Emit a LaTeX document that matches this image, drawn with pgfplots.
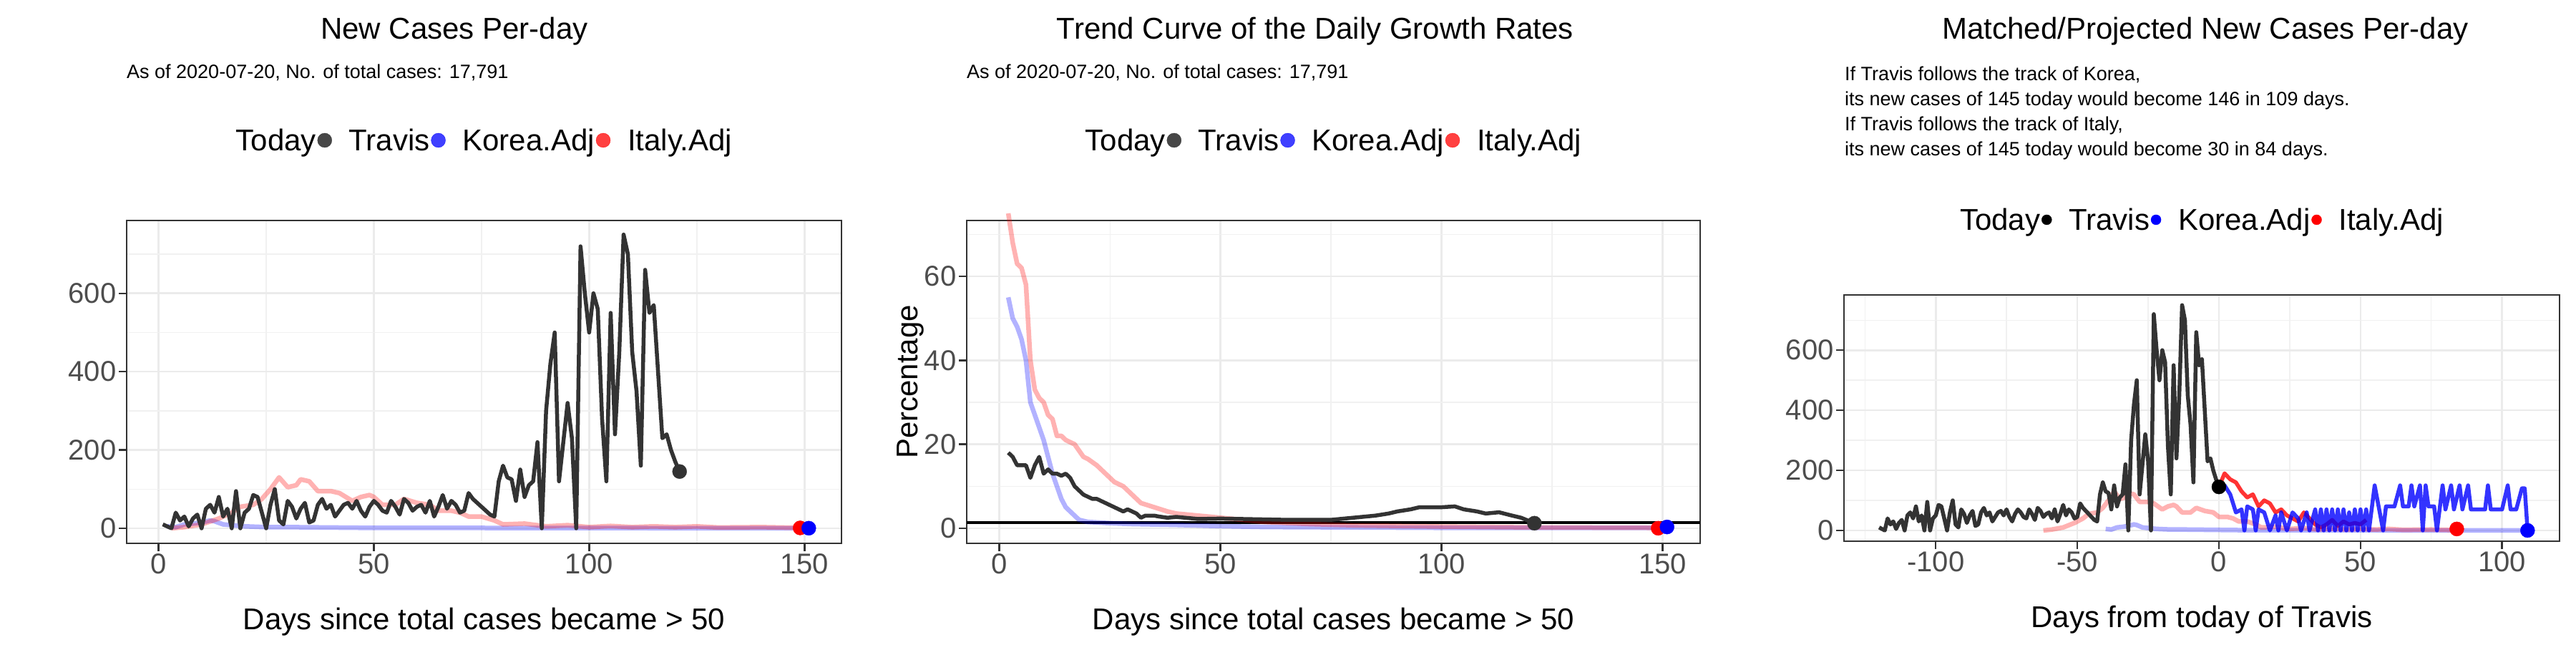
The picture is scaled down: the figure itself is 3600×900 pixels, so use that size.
\documentclass[border=0pt]{standalone}
\usepackage{pgfplots}
\usepackage{pgfplotstable}
\pgfplotsset{compat=1.18}
\usepackage{fontspec}
\setmainfont{Liberation Sans}
\definecolor{trav}{HTML}{333333}
\definecolor{gr30}{HTML}{4D4D4D}
\definecolor{gridc}{HTML}{EBEBEB}
\definecolor{bord}{HTML}{333333}
\pgfplotstableread{
y
10
5
0
40
20
30
5
25
35
0
50
60
40
80
30
50
0
95
0
40
50
85
80
40
0
60
100
20
10
70
55
25
50
65
15
20
60
75
50
60
30
45
60
65
50
70
45
30
55
70
60
45
40
70
55
35
75
65
45
55
60
40
70
30
55
85
50
70
60
40
45
90
75
65
55
45
35
30
120
160
130
125
70
150
80
110
120
220
0
300
420
500
120
220
320
230
0
720
600
500
600
560
280
120
550
240
450
750
700
450
350
160
660
550
570
400
230
240
200
170
145
}\travis
\pgfplotstableread{
x y
2 5
4 3
6 10
8 12
10 15
12 20
13 18
15 10
18 7
20 5
25 3
30 3
40 2
50 1
70 1
100 0.5
151 0.3
}\korea
\pgfplotstableread{
x y
3 0
6 3
10 10
14 25
17 40
19 55
22 60
24 75
26 100
28 130
30 105
32 110
33 125
35 120
37 95
40 95
42 90
45 70
47 80
49 85
50 80
52 60
55 60
57 75
60 65
63 60
65 45
68 45
70 40
72 30
75 30
78 20
80 10
85 12
90 5
95 8
100 3
105 6
110 3
115 5
120 3
125 5
130 2
140 3
149 1
}\italy
\newcommand{\LE}[1]{\hspace{22pt}#1\hspace{26pt}}
\pgfplotsset{
  base/.style={
    scale only axis, anchor=south west,
    axis line style={bord, line width=2.5pt},
    tick style={bord, line width=2.5pt},
    major tick length=11pt, minor tick length=0pt,
    tick align=outside, xtick pos=bottom, ytick pos=left,
    grid=both,
    major grid style={gridc, line width=2.6pt},
    minor grid style={gridc!70, line width=1.4pt},
    tick label style={font=\fontsize{40}{40}\selectfont, text=gr30},
    /pgf/number format/assume math mode=true,
    xlabel style={font=\fontsize{42}{42}\selectfont, yshift=-40pt},
    ylabel style={font=\fontsize{42}{42}\selectfont},
    xtick={0,50,100,150}, minor xtick={25,75,125},
    legend columns=-1,
    legend cell align=left,
    clip=false,
  },
  leg/.style={legend style={draw=none, fill=none, font=\fontsize{42}{42}\selectfont,
      at={(0.5,1)}, anchor=center, yshift=#1}},
  trav/.style={color=trav, line width=5.5pt, line join=round},
  light/.style={line width=6.5pt, opacity=0.3, line join=round},
}
\begin{document}
\begin{tikzpicture}
\path[use as bounding box] (0,0) rectangle (3600pt,900pt);
% Panel 1
\begin{axis}[base, leg=112pt, at={(177pt,141pt)}, width=999pt, height=451pt,
  xmin=-7.4, xmax=158.6, ymin=-38.4, ymax=786,
  ytick={0,200,400,600}, minor ytick={100,300,500,700},
  xlabel={Days since total cases became > 50}]
\addlegendimage{empty legend}\addlegendentry{Today\hspace{18pt}}
\addlegendimage{only marks, mark=*, mark size=10pt, color=trav, opacity=0.9}\addlegendentry{\LE{Travis}}
\addlegendimage{only marks, mark=*, mark size=10pt, color=blue, opacity=0.75}\addlegendentry{\LE{Korea.Adj}}
\addlegendimage{only marks, mark=*, mark size=10pt, color=red, opacity=0.75}\addlegendentry{\LE{Italy.Adj}}
\addplot[light, color=blue, forget plot] table[x=x,y=y]{\korea};
\addplot[light, color=red, forget plot] table[x=x,y=y]{\italy};
\addplot[trav, forget plot] table[x expr=\coordindex+1, y=y]{\travis};
\addplot[only marks, mark=*, mark size=10pt, color=trav, forget plot] coordinates {(121,145)};
\addplot[only marks, mark=*, mark size=10pt, color=red, forget plot] coordinates {(149,1)};
\addplot[only marks, mark=*, mark size=10pt, color=blue, forget plot] coordinates {(151,0.3)};
\end{axis}
% Panel 2
\begin{axis}[base, leg=112pt, at={(1351pt,141pt)}, width=1025pt, height=451pt,
  xmin=-7.4, xmax=158.5, ymin=-3.6, ymax=73.3,
  ytick={0,20,40,60}, minor ytick={10,30,50,70},
  xlabel={Days since total cases became > 50}, ylabel={Percentage},
  ylabel style={yshift=-6pt}]
\addlegendimage{empty legend}\addlegendentry{Today\hspace{18pt}}
\addlegendimage{only marks, mark=*, mark size=10pt, color=trav, opacity=0.9}\addlegendentry{\LE{Travis}}
\addlegendimage{only marks, mark=*, mark size=10pt, color=blue, opacity=0.75}\addlegendentry{\LE{Korea.Adj}}
\addlegendimage{only marks, mark=*, mark size=10pt, color=red, opacity=0.75}\addlegendentry{\LE{Italy.Adj}}
\addplot[color=black, line width=4pt, forget plot] coordinates {(-7.4,1.3)(158.5,1.3)};
\addplot[light, color=blue, forget plot] coordinates {(2,55)(3,50)(4,48)(5,45)(6,40)(7,30)(8,27)(9,24)(10,21)(11,17)(12,13)(13,10)(14,7)(15,5)(16,4)(17,3)(18,2)(20,1.5)(25,1.2)(30,1)(40,0.8)(50,0.5)(60,0.3)(80,0.2)(100,0.1)(151,0.1)};
\addplot[light, color=red, forget plot] coordinates {(2,75)(3,68)(4,63)(5,62)(6,58)(7,40)(8,33)(9,31)(10,30)(11,27)(12,26)(13,22)(14,22)(15,21)(17,20)(19,17)(20,16.5)(22,15)(24,13)(26,11)(28,10)(30,8)(32,6)(35,5)(38,4)(40,3.5)(45,3)(50,2.5)(55,2)(60,1.5)(70,1)(80,0.7)(100,0.4)(120,0.2)(149,0.1)};
\addplot[trav, forget plot] coordinates {(2,18)(3,17)(4,15)(5,15)(6,15)(7,12)(8,15)(9,17)(10,13)(11,14)(12,13)(13,13)(14,12.5)(15,13)(16,12)(17,10)(18,9)(19,8)(20,7.5)(21,7)(22,7)(23,6.5)(24,6)(25,5.5)(26,5)(27,4.5)(28,4)(29,4.5)(30,4)(31,3.5)(32,2.5)(33,3)(34,3)(35,3)(36,2.8)(38,2.5)(40,2.7)(42,2.5)(45,2.2)(50,2.3)(55,2.2)(60,2.1)(65,2.0)(70,2.0)(75,2.0)(80,2.5)(85,3)(88,3.5)(90,4)(93,4.5)(95,5)(100,5)(103,5.2)(105,4.5)(108,4.0)(110,3.5)(113,3.8)(116,3)(118,2.5)(121,1.2)};
\addplot[only marks, mark=*, mark size=10pt, color=trav, forget plot] coordinates {(121,1.2)};
\addplot[only marks, mark=*, mark size=10pt, color=red, forget plot] coordinates {(149,0)};
\addplot[only marks, mark=*, mark size=10pt, color=blue, forget plot] coordinates {(151,0.3)};
\end{axis}
% Panel 3
\begin{axis}[base, leg=105pt, at={(2577pt,144pt)}, width=1000pt, height=344pt,
  xmin=-132.4, xmax=120.3, ymin=-35.8, ymax=784,
  xtick={-100,-50,0,50,100}, minor xtick={-125,-75,-25,25,75},
  ytick={0,200,400,600}, minor ytick={100,300,500,700},
  xlabel={Days from today of Travis}]
\addlegendimage{empty legend}\addlegendentry{Today\hspace{18pt}}
\addlegendimage{only marks, mark=*, mark size=7pt, color=black}\addlegendentry{\LE{Travis}}
\addlegendimage{only marks, mark=*, mark size=7pt, color=blue}\addlegendentry{\LE{Korea.Adj}}
\addlegendimage{only marks, mark=*, mark size=7pt, color=red}\addlegendentry{\LE{Italy.Adj}}
\addplot[light, color=blue, forget plot] table[x expr=\thisrow{x}-42, y=y]{\korea};
\addplot[light, color=red, forget plot] table[x expr=\thisrow{x}-65, y=y]{\italy};
\addplot[trav, forget plot] table[x expr=\coordindex-120, y=y]{\travis};
\addplot[color=red, line width=5.5pt, opacity=0.8, line join=round, forget plot] coordinates {(0,145)(2,190)(4,170)(6,160)(8,130)(10,110)(12,120)(14,80)(16,100)(18,90)(20,60)(22,70)(24,50)(26,40)(28,30)(30,60)(32,40)(34,20)(36,10)(38,20)(40,35)(42,15)(44,30)(46,20)(48,25)(50,20)(52,35)};
\addplot[color=blue, line width=5.5pt, opacity=0.8, line join=round, forget plot] coordinates {(0,145)(2,150)(4,120)(6,60)(8,70)(9,0)(10,80)(12,70)(13,0)(14,70)(16,60)(18,0)(20,50)(21,0)(22,60)(24,0)(26,60)(28,40)(29,0)(31,60)(32,0)(34,70)(35,0)(36,70)(37,0)(38,70)(39,0)(40,70)(41,0)(42,70)(43,0)(44,70)(45,0)(46,60)(47,0)(48,70)(49,0)(50,70)(51,0)(52,70)(53,0)(55,150)(56,100)(58,0)(59,80)(60,80)(62,80)(64,150)(65,80)(67,80)(68,150)(69,80)(71,150)(72,0)(73,150)(74,80)(76,80)(77,0)(79,150)(80,70)(82,150)(83,70)(85,150)(86,70)(88,150)(89,70)(92,70)(94,70)(95,150)(96,70)(98,70)(100,70)(102,150)(103,70)(105,70)(107,140)(108,140)(109,0)};
\addplot[only marks, mark=*, mark size=10pt, color=black, forget plot] coordinates {(0,145)};
\addplot[only marks, mark=*, mark size=10pt, color=red, forget plot] coordinates {(84,5)};
\addplot[only marks, mark=*, mark size=10pt, color=blue, forget plot] coordinates {(109,0)};
\end{axis}
% titles
\node[anchor=base, font=\fontsize{42}{42}\selectfont] at (635pt,845pt) {New Cases Per-day};
\node[anchor=base, font=\fontsize{42}{42}\selectfont] at (1838pt,845pt) {Trend Curve of the Daily Growth Rates};
\node[anchor=base, font=\fontsize{42}{42}\selectfont] at (3082pt,845pt) {Matched/Projected New Cases Per-day};
\node[anchor=base west, inner sep=0pt, font=\fontsize{27}{27}\selectfont] at (177pt,790pt) {As of 2020-07-20, No. of total cases: 17,791};
\node[anchor=base west, inner sep=0pt, font=\fontsize{27}{27}\selectfont] at (1351pt,790pt) {As of 2020-07-20, No. of total cases: 17,791};
\node[anchor=base west, inner sep=0pt, font=\fontsize{27}{27}\selectfont] at (2578pt,787pt) {If Travis follows the track of Korea,};
\node[anchor=base west, inner sep=0pt, font=\fontsize{27}{27}\selectfont] at (2578pt,752pt) {its new cases of 145 today would become 146 in 109 days.};
\node[anchor=base west, inner sep=0pt, font=\fontsize{27}{27}\selectfont] at (2578pt,717pt) {If Travis follows the track of Italy,};
\node[anchor=base west, inner sep=0pt, font=\fontsize{27}{27}\selectfont] at (2578pt,682pt) {its new cases of 145 today would become 30 in 84 days.};
\end{tikzpicture}
\end{document}
